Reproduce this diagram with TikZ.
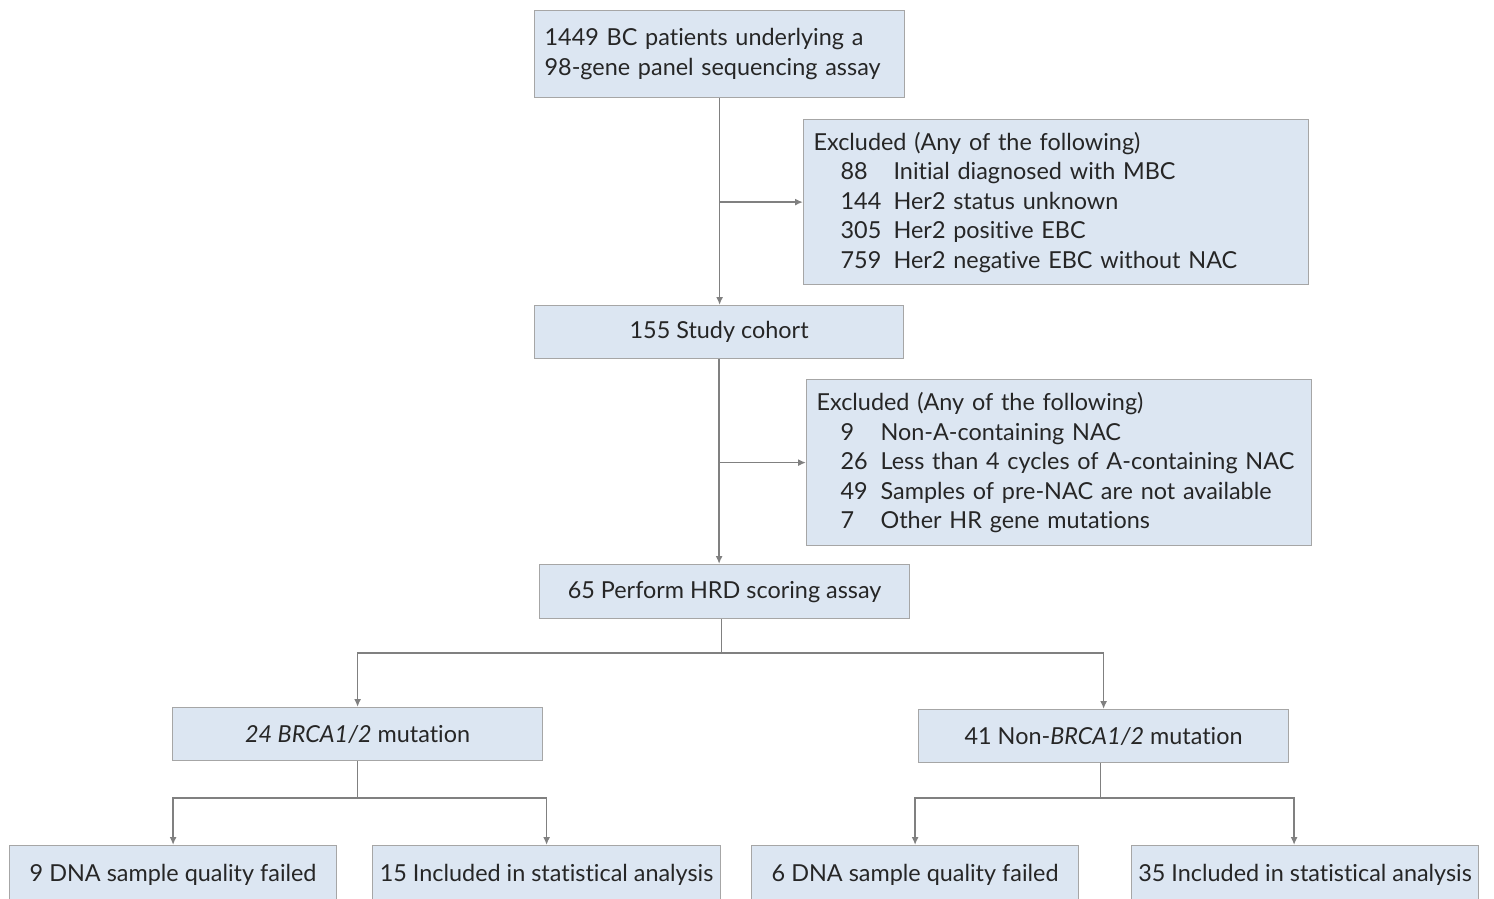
\documentclass[tikz,border=0pt]{standalone}
\usepackage{fontspec}
\setmainfont[RawFeature={-liga;-dlig;-calt;-clig}]{Lato}
\usetikzlibrary{arrows.meta}
\definecolor{boxfill}{HTML}{DCE6F2}
\definecolor{boxdraw}{HTML}{A6A6A6}
\definecolor{linec}{HTML}{808080}
\definecolor{txt}{HTML}{262626}
\begin{document}
\begin{tikzpicture}[x=1pt,y=-1pt,
  box/.style={draw=boxdraw,fill=boxfill,line width=1.2pt,inner sep=0pt,
    font=\fontsize{23.4}{29.5}\selectfont,text=txt},
  arr/.style={draw=linec,line width=1.6pt,-{Latex[length=8pt,width=7pt]}},
  ln/.style={draw=linec,line width=1.6pt}]
\clip (0,0) rectangle (1494,898);
\fill[white] (0,0) rectangle (1494,898);
\newcommand\nm[2]{\makebox[#1pt][l]{#2}}
% boxes
\node[box,anchor=north west,minimum width=370pt,minimum height=87pt,align=left,text width=350pt] (b1) at (534,10)
  {1449 BC patients underlying a\\98-gene panel sequencing assay};
\node[box,anchor=north west,minimum width=505pt,minimum height=165pt,align=left,text width=485pt] (e1) at (803,119)
  {Excluded (Any of the following)\\
   \hspace*{27pt}\nm{53}{88}Initial diagnosed with MBC\\
   \hspace*{27pt}\nm{53}{144}Her2 status unknown\\
   \hspace*{27pt}\nm{53}{305}Her2 positive EBC\\
   \hspace*{27pt}\nm{53}{759}Her2 negative EBC without NAC};
\node[box,anchor=north west,minimum width=369pt,minimum height=53pt] (b2) at (534,305) {155 Study cohort};
\node[box,anchor=north west,minimum width=505pt,minimum height=166pt,align=left,text width=485pt] (e2) at (806,379)
  {Excluded (Any of the following)\\
   \hspace*{24pt}\nm{40}{9}Non-A-containing NAC\\
   \hspace*{24pt}\nm{40}{26}Less than 4 cycles of A-containing NAC\\
   \hspace*{24pt}\nm{40}{49}Samples of pre-NAC are not available\\
   \hspace*{24pt}\nm{40}{7}Other HR gene mutations};
\node[box,anchor=north west,minimum width=370pt,minimum height=54pt] (b3) at (539,564) {65 Perform HRD scoring assay};
\node[box,anchor=north west,minimum width=370pt,minimum height=53pt] (b4) at (172,707) {\textit{24 BRCA1/2} mutation};
\node[box,anchor=north west,minimum width=370pt,minimum height=53pt] (b5) at (918,709) {41 Non-\textit{BRCA1/2} mutation};
\node[box,anchor=north west,minimum width=327pt,minimum height=58pt] (b6) at (9,845) {9 DNA sample quality failed};
\node[box,anchor=north west,minimum width=348pt,minimum height=58pt] (b7) at (372,845) {15 Included in statistical analysis};
\node[box,anchor=north west,minimum width=327pt,minimum height=58pt] (b8) at (751,845) {6 DNA sample quality failed};
\node[box,anchor=north west,minimum width=347pt,minimum height=58pt] (b9) at (1131,845) {35 Included in statistical analysis};
% connectors
\draw[arr] (b1.south) -- (b1.south |- b2.north);
\draw[arr] (b1.south |- e1.west) -- (e1.west);
\draw[arr] (b2.south) -- (b2.south |- b3.north);
\draw[arr] (b2.south |- e2.west) -- (e2.west);
\coordinate (j1) at ([xshift=-3pt,yshift=-34pt]b3.south);
\draw[ln] ([xshift=-3pt]b3.south) -- (j1);
\draw[arr] (j1) -| (b4.north);
\draw[arr] (j1) -| (b5.north);
\coordinate (j2) at ([yshift=-37pt]b4.south);
\draw[ln] (b4.south) -- (j2);
\draw[arr] (j2) -| (b6.north);
\draw[arr] (j2) -| (b7.north);
\coordinate (j3) at ([xshift=-3pt,yshift=-35pt]b5.south);
\draw[ln] ([xshift=-3pt]b5.south) -- (j3);
\draw[arr] (j3) -| (b8.north);
\draw[arr] (j3) -| ([xshift=-11pt]b9.north);
\end{tikzpicture}
\end{document}
